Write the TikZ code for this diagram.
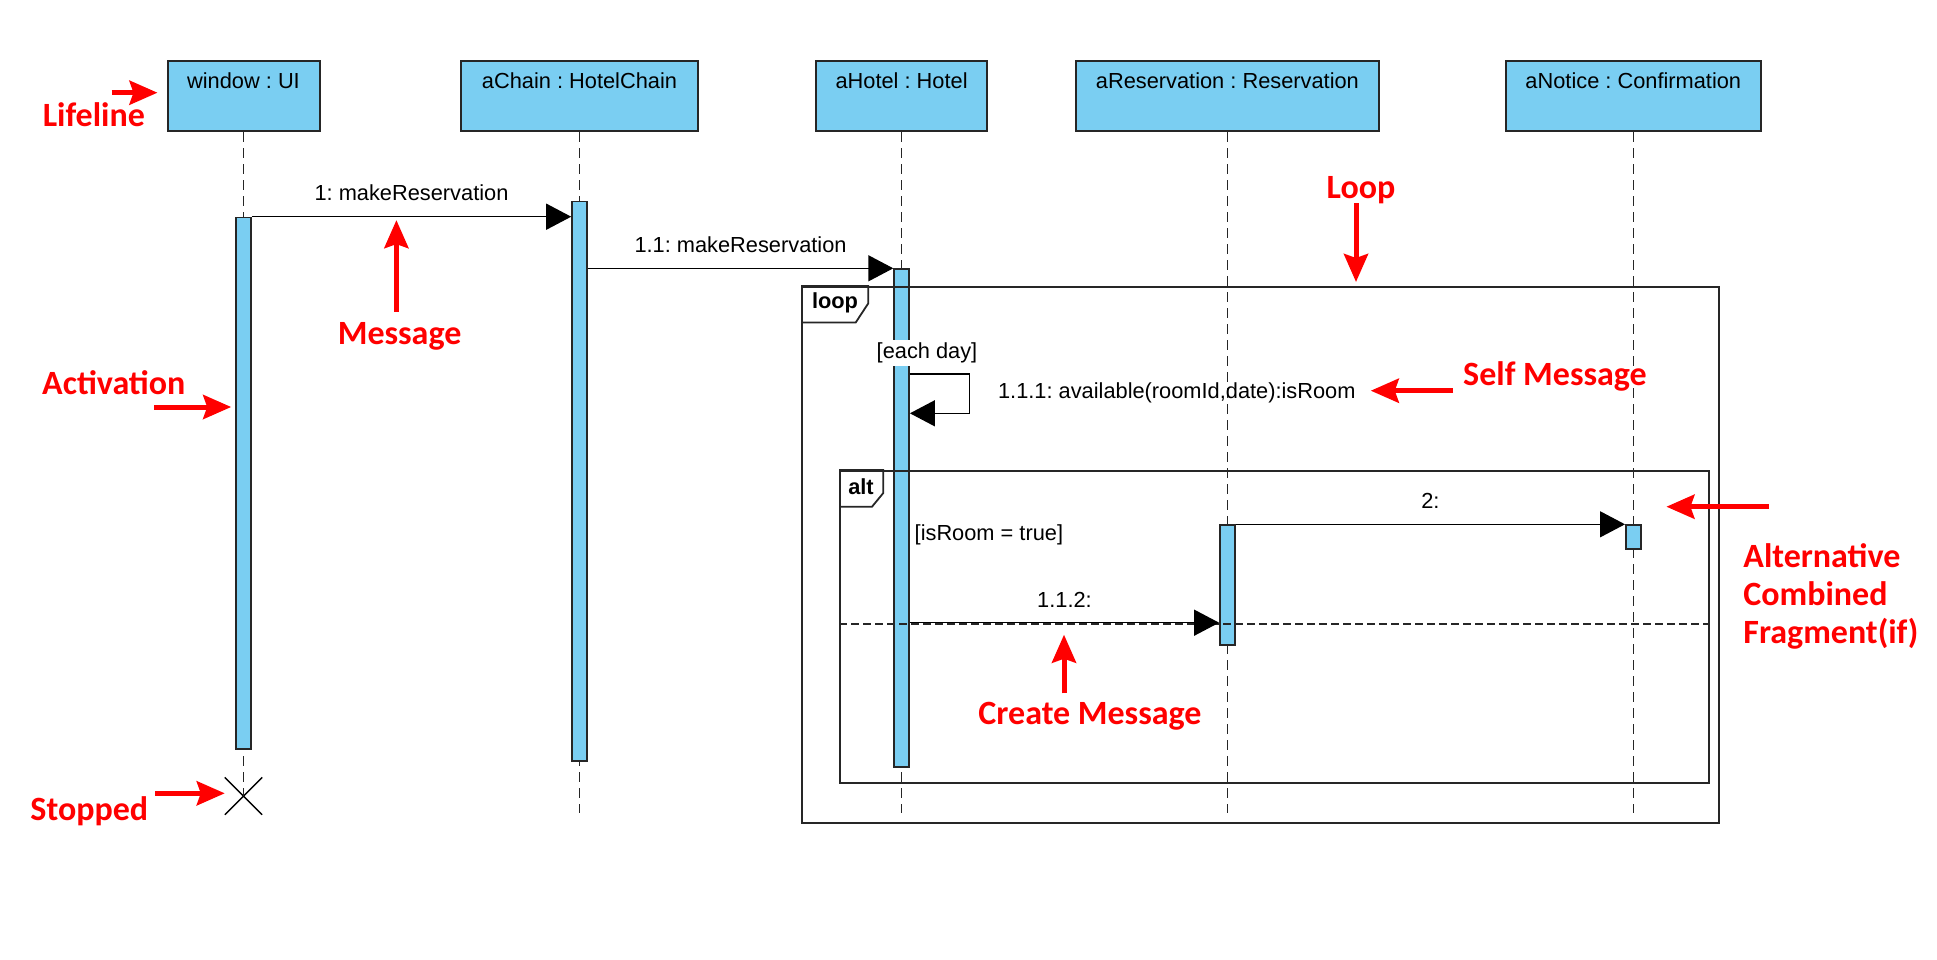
\documentclass[tikz,border=0pt]{standalone}
\usepackage{fontspec}
\setmainfont{Liberation Sans}
\newfontfamily\notafont{Carlito}
\frenchspacing
\usetikzlibrary{positioning,arrows.meta,shapes.misc}

\begin{document}
\begin{tikzpicture}[x=0.5pt,y=-0.5pt,
    every node/.style={font=\fontsize{10.9}{13}\selectfont},
    cabeza/.style={draw=black!85, line width=1pt, fill=azulvp, anchor=north,
        minimum width=#1, text height=13.5pt, text depth=21.5pt, inner ysep=0pt},
    vida/.style={black!85, line width=0.6pt, dash pattern=on 5pt off 3pt},
    activ/.style={draw=black!85, line width=0.8pt, fill=azulvp, anchor=north,
        minimum width=7.5pt, minimum height=#1, inner sep=0pt},
    msg/.style={line width=0.7pt, -{Triangle[length=12.5pt,width=13pt]}},
    etiq/.style={inner sep=0pt},
    marco/.style n args={2}{draw=black!85, line width=0.9pt, anchor=north west,
        minimum width=#1, minimum height=#2, inner sep=0pt},
    pestana/.style={font=\bfseries\fontsize{10.9}{13}\selectfont},
    nota/.style={red, line width=2.5pt, -{Stealth[length=14pt,width=12pt,inset=2pt]}},
    notatexto/.style={text=red, inner sep=0pt, font=\notafont\bfseries\fontsize{17}{19}\selectfont}
]
    % Colores
    \definecolor{azulvp}{RGB}{122,206,242}

    \useasboundingbox (0,0) rectangle (1937,959);

    % Cabeceras de las lineas de vida
    \node[cabeza=76pt]    (win)     at (243.5,60)  {window : UI};
    \node[cabeza=118.8pt] (chain)   at (579.5,60)  {aChain : HotelChain};
    \node[cabeza=85.6pt]  (hotel)   at (901.6,60)  {aHotel : Hotel};
    \node[cabeza=151.8pt] (reserva) at (1227.4,60) {aReservation : Reservation};
    \node[cabeza=127.8pt] (aviso)   at (1633.3,60) {aNotice : Confirmation};

    % Lineas de vida
    \node[cross out, draw, line width=0.7pt, minimum size=18pt, inner sep=0pt] (fin) at (243.5,796) {};
    \coordinate (finvida) at (0,813);
    \draw[vida] (win.south) -- (fin.center);
    \draw[vida] (chain.south) -- (chain.south |- finvida);
    \draw[vida] (hotel.south) -- (hotel.south |- finvida);
    \draw[vida] (reserva.south) -- (reserva.south |- finvida);
    \draw[vida] (aviso.south) -- (aviso.south |- finvida);

    % Activaciones
    \node[activ=265.8pt]  (winA)     at (243.5,216.7)  {};
    \node[activ=279.65pt] (chainA)   at (579.5,200.7)  {};
    \node[activ=248.85pt] (hotelA)   at (901.6,268.3)  {};
    \node[activ=59.85pt]  (reservaA) at (1227.4,524.3) {};
    \node[activ=12pt]     (avisoA)   at (1633.3,524.3) {};

    % Fragmento loop
    \node[marco={458.35pt}{267.85pt}] (loop) at (801,286) {};
    \draw[line width=0.9pt, black!85] (loop.north west) ++(0,36.5) -- ++(54.7,0) -- ++(12.6,-19.2) |- (loop.north west);
    \node[pestana] (loopT) at (835,303) {loop};

    % Fragmento alt
    \node[marco={434.7pt}{156.15pt}] (alt) at (839,470) {};
    \draw[line width=0.9pt, black!85] (alt.north west) ++(0,36.7) -- ++(33,0) -- ++(11.3,-13.7) |- (alt.north west);
    \node[pestana] (altT) at (861,487) {alt};
    \coordinate (sep) at (0,624.3);
    \draw[line width=0.9pt, black!85, dash pattern=on 4pt off 2pt] (alt.west |- sep) -- (alt.east |- sep);

    % Mensajes
    \draw[msg] (winA.north east) -- (chainA.west |- winA.north east)
        node[etiq, midway, above=7.5pt] (m1) {1: makeReservation};
    \draw[msg] (chainA.east |- hotelA.north) -- (hotelA.north west)
        node[etiq, midway, above=7.5pt] (m11) {1.1: makeReservation};

    \coordinate (s1) at (969.3,374);
    \coordinate (s2) at (969.3,413.3);
    \draw[msg] (hotelA.east |- s1) -- (s1) -- (s2) -- (hotelA.east |- s2);
    \node[etiq, anchor=west] (m111) at (997.7,393.3) {1.1.1: available(roomId,date):isRoom};

    \draw[msg] (reservaA.north east) -- (avisoA.north west)
        node[etiq, midway, above=7.5pt] (m2) {2:};

    \coordinate (c112) at (0,622.7);
    \draw[msg] (hotelA.east |- c112) -- (reservaA.west |- c112)
        node[etiq, midway, above=7.5pt] (m112) {1.1.2:};

    % Guardas
    \node[fill=white, inner sep=1.5pt] (g1) at (927,352.7) {[each day]};
    \node[inner sep=0pt] (g2) at (988.9,535) {[isRoom = true]};

    % Notas en rojo
    \node[notatexto] (tLife) at (93.8,115) {Lifeline};
    \coordinate (aLife) at (111.6,92.7);
    \draw[nota, shorten >=4.5pt] (aLife) -- (win.west |- aLife);

    \node[notatexto] (tMsg) at (399.6,336.7) {Message};
    \coordinate (aMsg) at (396.4,311.7);
    \draw[nota, shorten >=1.7pt] (aMsg) -- (aMsg |- winA.north);

    \node[notatexto] (tAct) at (113.8,382.7) {Activation};
    \coordinate (aAct) at (154,407);
    \draw[nota, shorten >=2pt] (aAct) -- (winA.west |- aAct);

    \node[notatexto] (tStop) at (89.3,811.7) {Stopped};
    \coordinate (aStop) at (155.4,793.3);
    \draw[nota] (aStop) -- (fin.west |- aStop);

    \node[notatexto] (tLoop) at (1361,190) {Loop};
    \coordinate (aLoop) at (1356,203);
    \draw[nota, shorten >=2pt] (aLoop) -- (aLoop |- loop.north);

    \node[notatexto] (tSelf) at (1555,376.7) {Self Message};
    \coordinate (aSelf) at (1453,390.7);
    \draw[nota, shorten >=7.4pt] (aSelf) -- (m111.east |- aSelf);

    \node[notatexto, anchor=west, align=left] (tAlt) at (1743,596) {Alternative\\Combined\\Fragment(if)};
    \coordinate (aAlt) at (1769,506.7);
    \draw[nota, shorten >=12.4pt] (aAlt) -- (avisoA.east |- aAlt);

    \node[notatexto] (tCre) at (1090,716.7) {Create Message};
    \coordinate (aCre) at (1064,693.3);
    \draw[nota, shorten >=6pt] (aCre) -- (aCre |- c112);
\end{tikzpicture}
\end{document}
